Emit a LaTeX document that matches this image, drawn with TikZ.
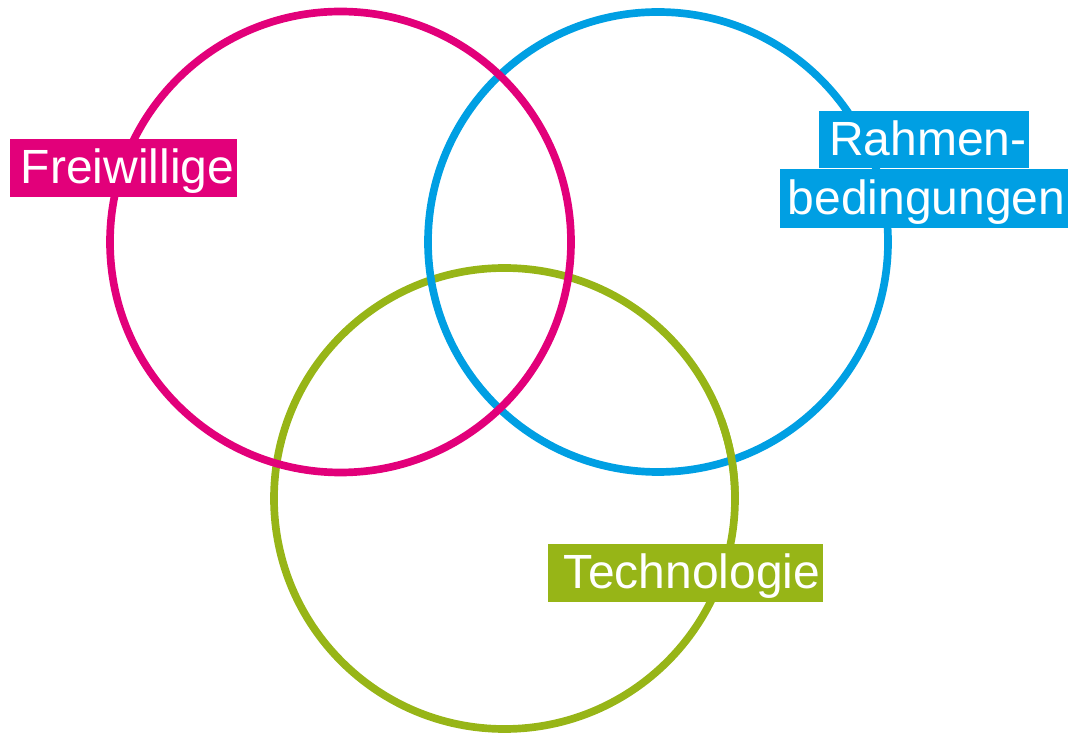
\documentclass[tikz,border=0pt]{standalone}
\usepackage{fontspec}
\usepackage{xcolor}
\usetikzlibrary{positioning}
\newfontfamily\tagfont{Liberation Sans}
\definecolor{magenta}{HTML}{E2007A}
\definecolor{cyanblue}{HTML}{009FE3}
\definecolor{olive}{HTML}{97B517}
\tikzstyle{ring}=[line width=5.75pt]
\tikzstyle{tag}=[text=white, font=\tagfont\fontsize{36pt}{41pt}\selectfont, inner xsep=2pt, inner ysep=0pt, minimum height=43.5pt, text height=32pt, text depth=8.5pt, align=right]

\begin{document}
\begin{tikzpicture}[x=0.75pt,y=0.75pt]
\useasboundingbox (0,0) rectangle (1074,732);
\coordinate (cf) at (340.5,490);
\coordinate (cr) at (658,490);
\coordinate (ct) at (504.5,233.5);
\draw[ring, olive] (ct) circle (230.5);
\draw[ring, cyanblue] (cr) circle (230);
\draw[ring, olive] (ct) ++(0:230.5) arc[start angle=0, end angle=20, radius=230.5];
\draw[ring, magenta] (cf) circle (230.5);
\node[tag, fill=magenta, text width=166pt] (frei) at (123.5,564) {Freiwillige};
\node[tag, fill=olive, text width=202pt] (tech) at (685.5,159) {Technologie};
\node[tag, fill=cyanblue, text width=212pt, minimum height=44.25pt] (bed) at (924,533.5) {bedingungen};
\node[tag, fill=cyanblue, text width=154pt, minimum height=42.75pt, above=0pt of bed] (rahm) {Rahmen-};
\end{tikzpicture}
\end{document}
